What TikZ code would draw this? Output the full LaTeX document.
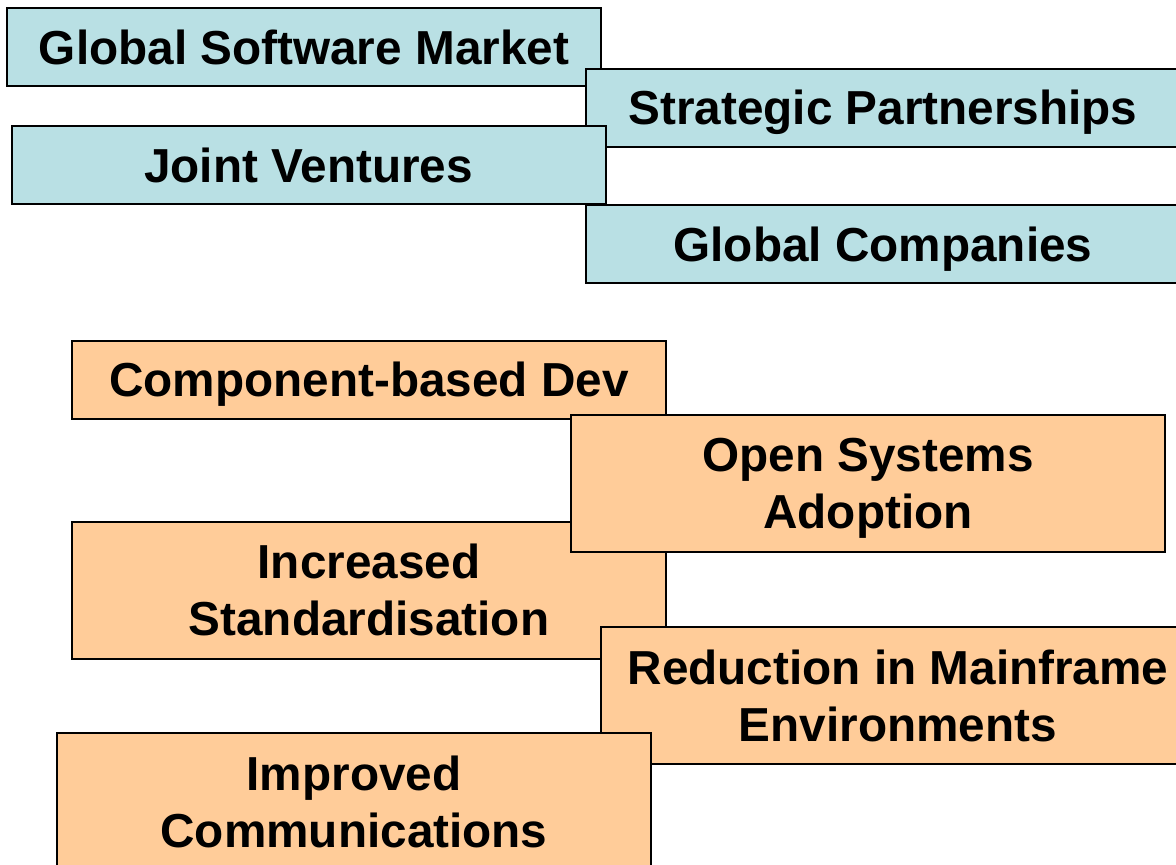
\documentclass[tikz,border=0pt]{standalone}
\usepackage{fontspec}
\setmainfont{Liberation Sans}
\definecolor{tealbox}{RGB}{185,224,228}
\definecolor{orangebox}{RGB}{255,204,153}
\begin{document}
\begin{tikzpicture}[x=0.5pt,y=-0.5pt,
  box/.style={draw=black,line width=1pt,inner sep=0pt,minimum width=297pt,
    align=center,text depth=0pt,font=\fontsize{23.85}{28.6}\selectfont\bfseries},
  tealstyle/.style={box,fill=tealbox,minimum height=39pt},
  orangeone/.style={box,fill=orangebox,minimum height=39pt},
  orangetwo/.style={box,fill=orangebox,minimum height=68.5pt}]
\useasboundingbox (0,0) rectangle (1176,864);
\clip (0,0) rectangle (1176,864);
\node[tealstyle] (gsm) at (304,47) {Global Software Market};
\node[tealstyle] (sp) at (883,107.5) {Strategic Partnerships};
\node[tealstyle] (jv) at (308.5,165) {Joint Ventures};
\node[tealstyle] (gc) at (883,244) {Global Companies};
\node[orangeone] (cbd) at (369,379.5) {Component-based Dev};
\node[orangetwo] (is) at (369,590) {Increased\\Standardisation};
\node[orangetwo] (osa) at (868,483.5) {Open Systems\\Adoption};
\node[orangetwo] (rme) at (898,695.5) {Reduction in Mainframe\\Environments};
\node[orangetwo] (ic) at (354,801.5) {Improved\\Communications};
\end{tikzpicture}
\end{document}
